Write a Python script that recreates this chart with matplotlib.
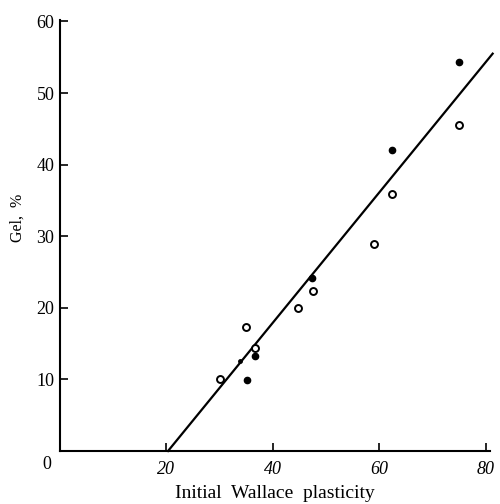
import matplotlib
matplotlib.use('Agg')
import matplotlib.pyplot as plt

plt.rcParams['font.family'] = ['Liberation Serif', 'DejaVu Serif']

# open circles
open_x = [30.1, 35.0, 36.7, 44.7, 47.6, 59.0, 62.4, 74.9]
open_y = [10.0, 17.3, 14.4, 20.0, 22.4, 28.9, 35.9, 45.6]
# filled circles
filled_x = [35.2, 36.7, 47.4, 62.3, 74.9]
filled_y = [9.9, 13.3, 24.1, 42.0, 54.4]
small_x = [33.9]
small_y = [12.6]
# fitted line end points
fit_x = [20.3, 81.3]
fit_y = [0.0, 55.5]

xticks = [20, 40, 60, 80]
yticks = [10, 20, 30, 40, 50, 60]

fig = plt.figure(figsize=[5.0, 5.04], dpi=100)
ax = fig.add_axes([60 / 500, 53 / 504, 430 / 500, 431 / 504])

ax.plot(fit_x, fit_y, '-', color='black', lw=1.6, clip_on=False)
ax.plot(open_x, open_y, 'o', mfc='white', mec='black', mew=1.4, ms=5, clip_on=False)
ax.plot(filled_x, filled_y, 'o', color='black', ms=4.5, clip_on=False)
ax.plot(small_x, small_y, 'o', color='black', ms=2.5, clip_on=False)

ax.set_xlim(0, 80.8)
ax.set_ylim(0, 60.2)
for s in ['top', 'right']:
    ax.spines[s].set_visible(False)
for s in ['left', 'bottom']:
    ax.spines[s].set_linewidth(1.5)

ax.set_xticks(xticks)
ax.set_xticklabels([str(t) for t in xticks], fontstyle='italic')
ax.set_yticks(yticks)
ax.tick_params(direction='in', length=6, width=1.2, labelsize=13, pad=4)
ax.tick_params(axis='x', pad=7)
ax.text(-0.03, -0.012, '0', transform=ax.transAxes, ha='center', va='top', fontsize=13)

ax.set_xlabel('Initial  Wallace  plasticity', fontsize=14)
ax.xaxis.set_label_coords(0.5, -0.078)
ax.set_ylabel('Gel,  %', fontsize=11.5)
ax.yaxis.set_label_coords(-0.08, 0.54)

plt.savefig('out.png', dpi=100)
